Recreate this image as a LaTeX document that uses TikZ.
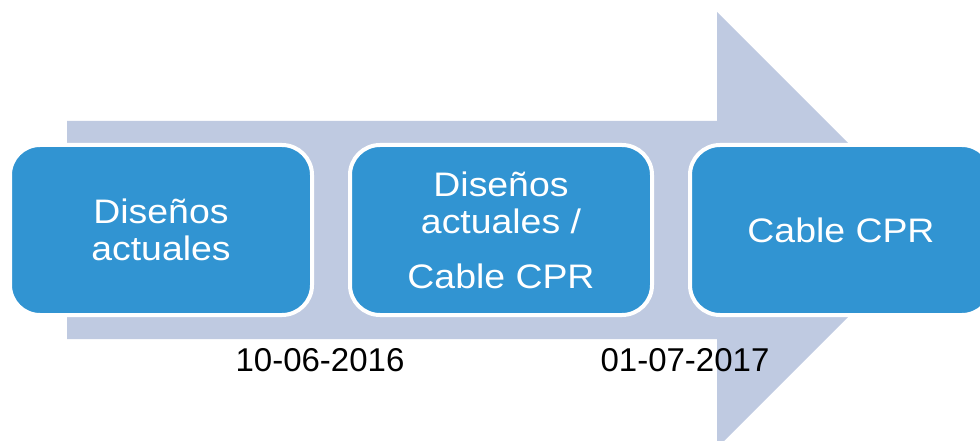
\documentclass[tikz,border=0pt]{standalone}
\usepackage{fontspec}
\setmainfont{Liberation Sans}
\newfontfamily\stagefont[FakeStretch=1.1]{Liberation Sans}
\usepackage{tikz}
\usetikzlibrary{positioning}
\definecolor{arrowgrey}{HTML}{BFCAE1}
\definecolor{boxblue}{HTML}{3194D2}

\begin{document}
\begin{tikzpicture}[x=1pt,y=-1pt,node distance=340pt,
        stage/.style={rectangle,rounded corners=30pt,minimum width=302pt,minimum height=170pt,
          line width=4pt,draw=white,fill=boxblue,text=white,align=center,
          font=\stagefont\fontsize{34}{37.5}\selectfont,inner sep=0pt},
        date/.style={text=black,font=\fontsize{33}{38}\selectfont,inner sep=0pt}]
        \useasboundingbox (0,0) rectangle (980,441);
        % big arrow behind
        \fill[arrowgrey] (67,121) -- (717,121) -- (717,12) -- (935,230)
          -- (717,448) -- (717,339) -- (67,339) -- cycle;
        \node[stage] (1) at (161,230) {Diseños\\actuales};
        \node[stage] (2) [right of=1] {Diseños\\actuales /\\[17pt]Cable CPR};
        \node[stage] (3) [right of=2] {Cable CPR};
        \node[date]  (d1) at (320,360) {10-06-2016};
        \node[date]  (d2) at (685,360) {01-07-2017};
      \end{tikzpicture}
\end{document}
